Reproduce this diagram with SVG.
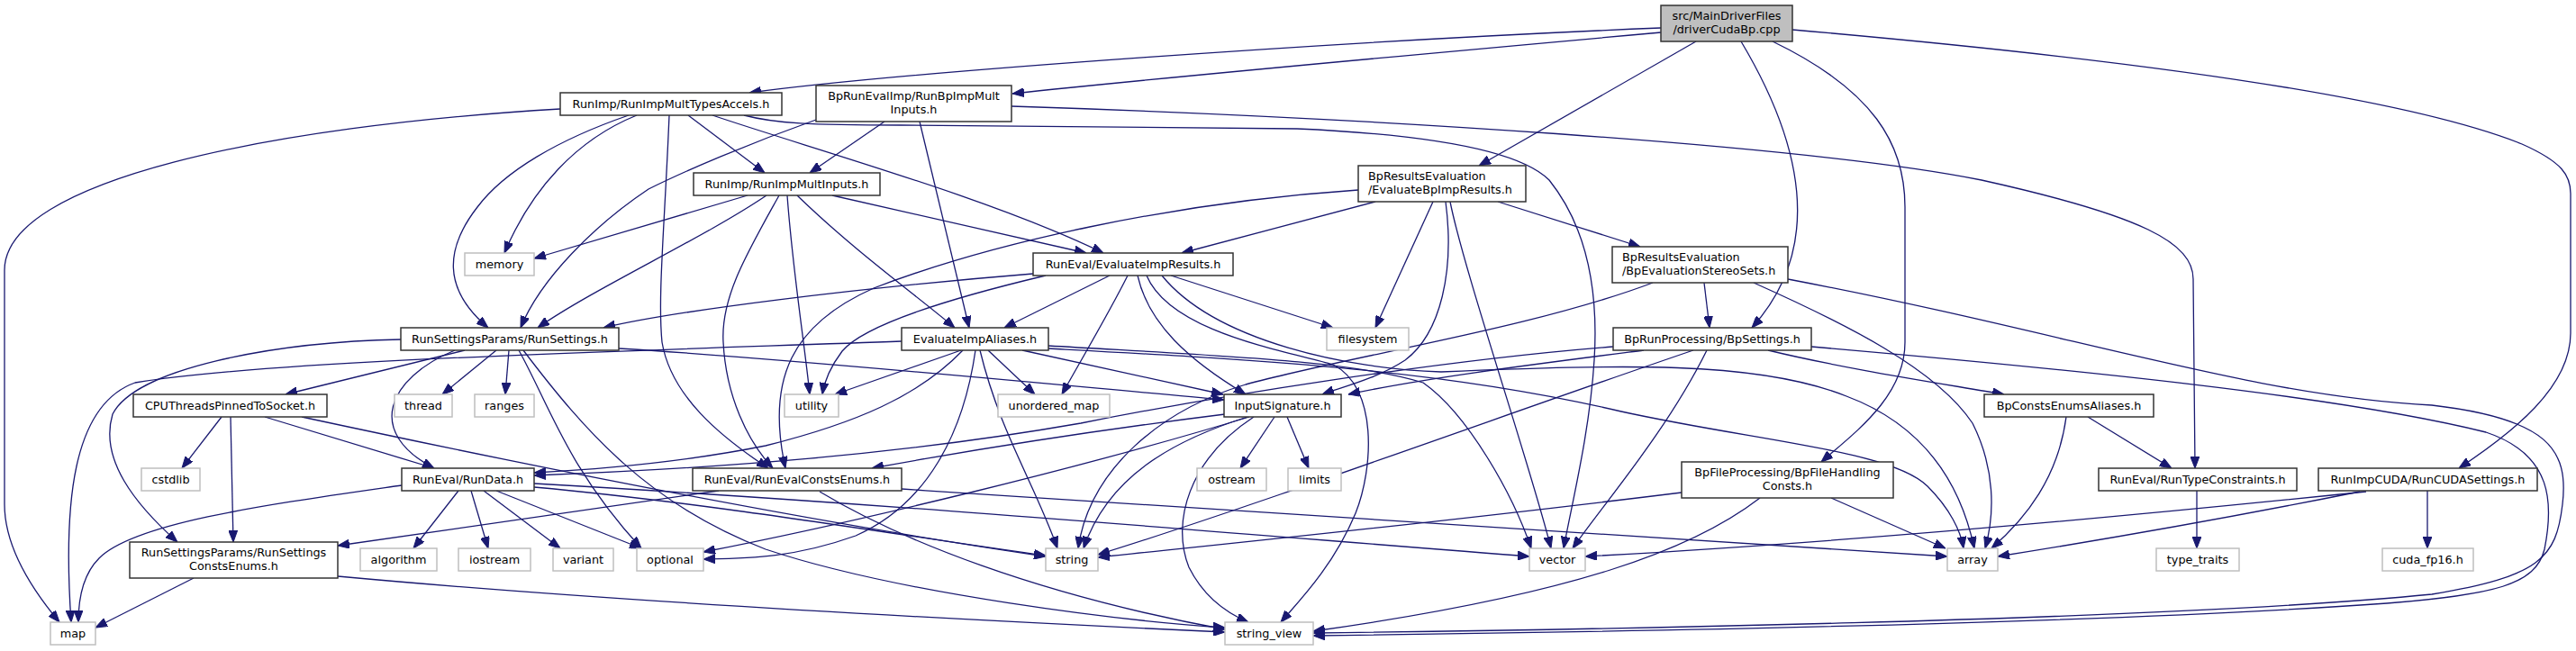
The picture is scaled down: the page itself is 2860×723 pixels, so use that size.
<svg xmlns="http://www.w3.org/2000/svg" width="2860" height="723" viewBox="0 0 2860 723">
<style>
.e{fill:none;stroke:#191970;stroke-width:1.3;marker-end:url(#ah)}
.n{fill:#fff;stroke:#333;stroke-width:1.5}
.s{fill:#fff;stroke:#bfbfbf;stroke-width:1.5}
.r{fill:#bfbfbf;stroke:#333;stroke-width:1.5}
text{font-family:"DejaVu Sans","Liberation Sans",sans-serif;font-size:12.8px;fill:#000}
.c{text-anchor:middle}
</style>
<defs>
<marker id="ah" viewBox="0 0 13 10" refX="13" refY="5" markerWidth="13" markerHeight="10" orient="auto" markerUnits="userSpaceOnUse"><path d="M0,0 L13,5 L0,10 Z" fill="#191970" stroke="#191970" stroke-width="1"/></marker>
</defs>
<rect width="2860" height="723" fill="#fff"/>
<g id="edges">
<path class="e" d="M1844,31 C1500,45 1000,80 832,103"/>
<path class="e" d="M1844,36 C1600,58 1300,85 1124,104"/>
<path class="e" d="M1883,46 L1642,184"/>
<path class="e" d="M1933,46 C1995,150 2030,270 1945,364"/>
<path class="e" d="M1968,46 C2080,100 2115,160 2115,230 L2115,380 C2115,440 2060,480 2022,513"/>
<path class="e" d="M1990,33 C2300,60 2650,100 2800,160 C2845,180 2854,195 2854,215 L2854,370 C2854,430 2790,480 2730,520"/>
<path class="e" d="M764,128 L849,192"/>
<path class="e" d="M707,128 C640,155 590,210 560,281"/>
<path class="e" d="M791,128 C900,165 1100,220 1225,281"/>
<path class="e" d="M698,128 C620,155 560,190 530,230 C495,275 490,320 542,364"/>
<path class="e" d="M743,128 C738,250 730,330 735,380 C745,440 800,485 853,520"/>
<path class="e" d="M826,128 C860,137 900,139 1000,139 C1200,140 1350,141 1440,143 C1600,150 1690,170 1720,200 C1760,250 1775,320 1770,400 C1765,480 1745,560 1736,609"/>
<path class="e" d="M622,121 C300,140 5,200 5,300 L5,560 C5,610 40,660 66,691"/>
<path class="e" d="M982,135 L899,192"/>
<path class="e" d="M906,133 C830,160 760,190 720,210 C660,250 600,310 578,364"/>
<path class="e" d="M1021,135 L1076,364"/>
<path class="e" d="M1123,118 C1500,130 2000,160 2200,200 C2380,240 2435,270 2435,310 L2437,520"/>
<path class="e" d="M830,217 L593,287"/>
<path class="e" d="M924,217 L1206,281"/>
<path class="e" d="M851,217 C780,265 660,320 597,364"/>
<path class="e" d="M885,217 C950,280 1020,330 1060,364"/>
<path class="e" d="M874,217 C880,300 893,380 899,438"/>
<path class="e" d="M865,217 C830,280 800,330 803,380 C806,440 830,490 858,520"/>
<path class="e" d="M1527,224 L1312,281"/>
<path class="e" d="M1663,224 L1821,274"/>
<path class="e" d="M1591,224 L1527,364"/>
<path class="e" d="M1605,224 C1615,300 1600,370 1560,400 C1530,420 1490,430 1468,438"/>
<path class="e" d="M1508,211 C1300,225 1100,270 970,320 C880,360 850,420 872,520"/>
<path class="e" d="M1610,224 C1625,300 1700,520 1722,609"/>
<path class="e" d="M1147,304 C950,320 750,345 670,364"/>
<path class="e" d="M1232,306 L1115,364"/>
<path class="e" d="M1300,306 L1480,364"/>
<path class="e" d="M1161,306 C1060,330 960,360 935,390 C920,410 915,425 913,438"/>
<path class="e" d="M1252,306 C1230,350 1200,400 1179,438"/>
<path class="e" d="M1263,306 C1275,360 1320,400 1383,438"/>
<path class="e" d="M1290,306 C1350,380 1500,410 1600,413 C1800,405 1950,400 2050,440 C2130,470 2175,530 2192,609"/>
<path class="e" d="M1273,306 C1300,370 1430,390 1480,405 C1530,430 1525,520 1505,570 C1480,630 1440,670 1422,691"/>
<path class="e" d="M1892,314 L1898,364"/>
<path class="e" d="M1835,314 C1700,365 1500,395 1383,427 C1290,455 1210,520 1197,609"/>
<path class="e" d="M1947,314 C2050,360 2150,410 2190,470 C2215,520 2215,570 2204,609"/>
<path class="e" d="M1985,310 C2300,370 2500,440 2700,450 C2830,465 2852,500 2845,560 C2838,620 2820,640 2700,660 C2400,690 1700,700 1458,703"/>
<path class="e" d="M516,389 L317,438"/>
<path class="e" d="M551,389 L491,438"/>
<path class="e" d="M565,389 L561,438"/>
<path class="e" d="M687,387 C900,400 1200,430 1359,444"/>
<path class="e" d="M505,389 C430,420 405,480 482,520"/>
<path class="e" d="M445,377 C300,380 150,410 125,460 C110,510 150,560 197,602"/>
<path class="e" d="M576,389 C610,450 630,520 712,609"/>
<path class="e" d="M581,389 C650,480 720,560 850,610 C1000,660 1250,690 1360,697"/>
<path class="e" d="M1067,389 L927,438"/>
<path class="e" d="M1097,389 L1149,438"/>
<path class="e" d="M1135,389 L1358,438"/>
<path class="e" d="M1069,389 C1020,440 950,470 850,495 C750,515 650,522 593,525"/>
<path class="e" d="M1083,389 C1070,480 1030,560 950,595 C880,620 830,620 781,621"/>
<path class="e" d="M1088,389 C1110,480 1150,540 1174,609"/>
<path class="e" d="M1164,384 C1350,395 1500,400 1580,425 C1630,460 1680,550 1700,609"/>
<path class="e" d="M1164,387 C1400,400 1600,410 1800,457 C1950,490 2100,500 2140,540 C2165,565 2177,590 2180,609"/>
<path class="e" d="M1001,379 C700,390 300,400 150,425 C80,450 70,560 79,691"/>
<path class="e" d="M1825,389 C1700,405 1580,420 1497,438"/>
<path class="e" d="M1963,389 C2050,410 2150,425 2225,438"/>
<path class="e" d="M1791,385 C1600,400 1350,440 1200,470 C1000,505 800,520 593,528"/>
<path class="e" d="M1880,389 C1700,450 1400,560 1219,616"/>
<path class="e" d="M1895,389 C1850,480 1780,560 1746,609"/>
<path class="e" d="M2011,385 C2300,410 2600,440 2760,480 C2835,505 2835,560 2825,610 C2815,650 2770,660 2650,670 C2300,695 1700,703 1458,706"/>
<path class="e" d="M246,463 L202,520"/>
<path class="e" d="M294,463 L482,520"/>
<path class="e" d="M256,463 L259,602"/>
<path class="e" d="M335,463 C600,520 900,580 1161,618"/>
<path class="e" d="M1360,460 C1200,480 1050,505 968,520"/>
<path class="e" d="M1415,463 L1377,520"/>
<path class="e" d="M1429,463 L1453,520"/>
<path class="e" d="M1387,463 C1200,520 950,580 781,613"/>
<path class="e" d="M1385,463 C1300,490 1230,530 1203,609"/>
<path class="e" d="M1392,463 C1320,510 1300,580 1320,630 C1335,660 1360,680 1386,691"/>
<path class="e" d="M2318,463 L2411,520"/>
<path class="e" d="M2294,463 C2285,530 2250,575 2211,609"/>
<path class="e" d="M509,545 L459,609"/>
<path class="e" d="M523,545 L542,609"/>
<path class="e" d="M537,545 L622,609"/>
<path class="e" d="M551,545 L712,609"/>
<path class="e" d="M593,541 C800,560 1000,595 1161,617"/>
<path class="e" d="M593,537 C1000,560 1400,595 1698,618"/>
<path class="e" d="M446,539 C300,560 150,580 110,620 C90,640 87,670 87,691"/>
<path class="e" d="M798,545 L375,606"/>
<path class="e" d="M1001,543 C1400,570 1800,595 2162,618"/>
<path class="e" d="M910,546 C1000,600 1150,660 1360,699"/>
<path class="e" d="M1867,547 C1600,580 1400,600 1219,619"/>
<path class="e" d="M2033,553 L2160,609"/>
<path class="e" d="M1954,553 C1880,610 1750,660 1458,701"/>
<path class="e" d="M2439,545 L2439,609"/>
<path class="e" d="M2627,546 C2300,580 2000,605 1760,618"/>
<path class="e" d="M2620,546 C2450,580 2300,605 2218,618"/>
<path class="e" d="M2695,545 L2695,609"/>
<path class="e" d="M215,642 L106,697"/>
<path class="e" d="M375,640 C700,670 1100,690 1360,702"/>
</g>
<g id="node0"><rect class="r" x="1844" y="6" width="146" height="40"/><text class="c" x="1917" y="21.6">src/MainDriverFiles</text><text class="c" x="1917" y="36.6">/driverCudaBp.cpp</text></g>
<g id="node1"><rect class="n" x="622" y="103" width="246" height="25"/><text class="c" x="745" y="120">RunImp/RunImpMultTypesAccels.h</text></g>
<g id="node2"><rect class="n" x="906" y="95" width="217" height="40"/><text class="c" x="1014.5" y="110.6">BpRunEvalImp/RunBpImpMult</text><text class="c" x="1014.5" y="125.6">Inputs.h</text></g>
<g id="node3"><rect class="n" x="770" y="192" width="207" height="25"/><text class="c" x="873.5" y="209">RunImp/RunImpMultInputs.h</text></g>
<g id="node4"><rect class="n" x="1508" y="184" width="186" height="40"/><text x="1519" y="199.6">BpResultsEvaluation</text><text x="1519" y="214.6">/EvaluateBpImpResults.h</text></g>
<g id="node5"><rect class="s" x="516" y="281" width="77" height="25"/><text class="c" x="554.5" y="298">memory</text></g>
<g id="node6"><rect class="n" x="1147" y="281" width="222" height="25"/><text class="c" x="1258" y="298">RunEval/EvaluateImpResults.h</text></g>
<g id="node7"><rect class="n" x="1790" y="274" width="195" height="40"/><text x="1801" y="289.6">BpResultsEvaluation</text><text x="1801" y="304.6">/BpEvaluationStereoSets.h</text></g>
<g id="node8"><rect class="n" x="445" y="364" width="242" height="25"/><text class="c" x="566" y="381">RunSettingsParams/RunSettings.h</text></g>
<g id="node9"><rect class="n" x="1001" y="364" width="163" height="25"/><text class="c" x="1082.5" y="381">EvaluateImpAliases.h</text></g>
<g id="node10"><rect class="s" x="1473" y="364" width="91" height="25"/><text class="c" x="1518.5" y="381">filesystem</text></g>
<g id="node11"><rect class="n" x="1791" y="364" width="220" height="25"/><text class="c" x="1901" y="381">BpRunProcessing/BpSettings.h</text></g>
<g id="node12"><rect class="n" x="148" y="438" width="215" height="25"/><text class="c" x="255.5" y="455">CPUThreadsPinnedToSocket.h</text></g>
<g id="node13"><rect class="s" x="438" y="438" width="64" height="25"/><text class="c" x="470" y="455">thread</text></g>
<g id="node14"><rect class="s" x="527" y="438" width="66" height="25"/><text class="c" x="560" y="455">ranges</text></g>
<g id="node15"><rect class="s" x="871" y="438" width="60" height="25"/><text class="c" x="901" y="455">utility</text></g>
<g id="node16"><rect class="s" x="1108" y="438" width="124" height="25"/><text class="c" x="1170" y="455">unordered_map</text></g>
<g id="node17"><rect class="n" x="1359" y="438" width="130" height="25"/><text class="c" x="1424" y="455">InputSignature.h</text></g>
<g id="node18"><rect class="n" x="2203" y="438" width="188" height="25"/><text class="c" x="2297" y="455">BpConstsEnumsAliases.h</text></g>
<g id="node19"><rect class="s" x="157" y="520" width="65" height="25"/><text class="c" x="189.5" y="537">cstdlib</text></g>
<g id="node20"><rect class="n" x="446" y="520" width="147" height="25"/><text class="c" x="519.5" y="537">RunEval/RunData.h</text></g>
<g id="node21"><rect class="n" x="769" y="520" width="232" height="25"/><text class="c" x="885" y="537">RunEval/RunEvalConstsEnums.h</text></g>
<g id="node22"><rect class="s" x="1329" y="520" width="77" height="25"/><text class="c" x="1367.5" y="537">ostream</text></g>
<g id="node23"><rect class="s" x="1430" y="520" width="59" height="25"/><text class="c" x="1459.5" y="537">limits</text></g>
<g id="node24"><rect class="n" x="1867" y="513" width="235" height="40"/><text class="c" x="1984.5" y="528.6">BpFileProcessing/BpFileHandling</text><text class="c" x="1984.5" y="543.6">Consts.h</text></g>
<g id="node25"><rect class="n" x="2330" y="520" width="220" height="25"/><text class="c" x="2440" y="537">RunEval/RunTypeConstraints.h</text></g>
<g id="node26"><rect class="n" x="2574" y="520" width="243" height="25"/><text class="c" x="2695.5" y="537">RunImpCUDA/RunCUDASettings.h</text></g>
<g id="node27"><rect class="n" x="144" y="602" width="231" height="40"/><text class="c" x="259.5" y="617.6">RunSettingsParams/RunSettings</text><text class="c" x="259.5" y="632.6">ConstsEnums.h</text></g>
<g id="node28"><rect class="s" x="400" y="609" width="85" height="25"/><text class="c" x="442.5" y="626">algorithm</text></g>
<g id="node29"><rect class="s" x="509" y="609" width="80" height="25"/><text class="c" x="549" y="626">iostream</text></g>
<g id="node30"><rect class="s" x="614" y="609" width="67" height="25"/><text class="c" x="647.5" y="626">variant</text></g>
<g id="node31"><rect class="s" x="707" y="609" width="74" height="25"/><text class="c" x="744" y="626">optional</text></g>
<g id="node32"><rect class="s" x="1161" y="609" width="58" height="25"/><text class="c" x="1190" y="626">string</text></g>
<g id="node33"><rect class="s" x="1698" y="609" width="62" height="25"/><text class="c" x="1729" y="626">vector</text></g>
<g id="node34"><rect class="s" x="2162" y="609" width="56" height="25"/><text class="c" x="2190" y="626">array</text></g>
<g id="node35"><rect class="s" x="2394" y="609" width="92" height="25"/><text class="c" x="2440" y="626">type_traits</text></g>
<g id="node36"><rect class="s" x="2645" y="609" width="101" height="25"/><text class="c" x="2695.5" y="626">cuda_fp16.h</text></g>
<g id="node37"><rect class="s" x="56" y="691" width="50" height="25"/><text class="c" x="81" y="708">map</text></g>
<g id="node38"><rect class="s" x="1360" y="691" width="98" height="25"/><text class="c" x="1409" y="708">string_view</text></g>
</svg>
